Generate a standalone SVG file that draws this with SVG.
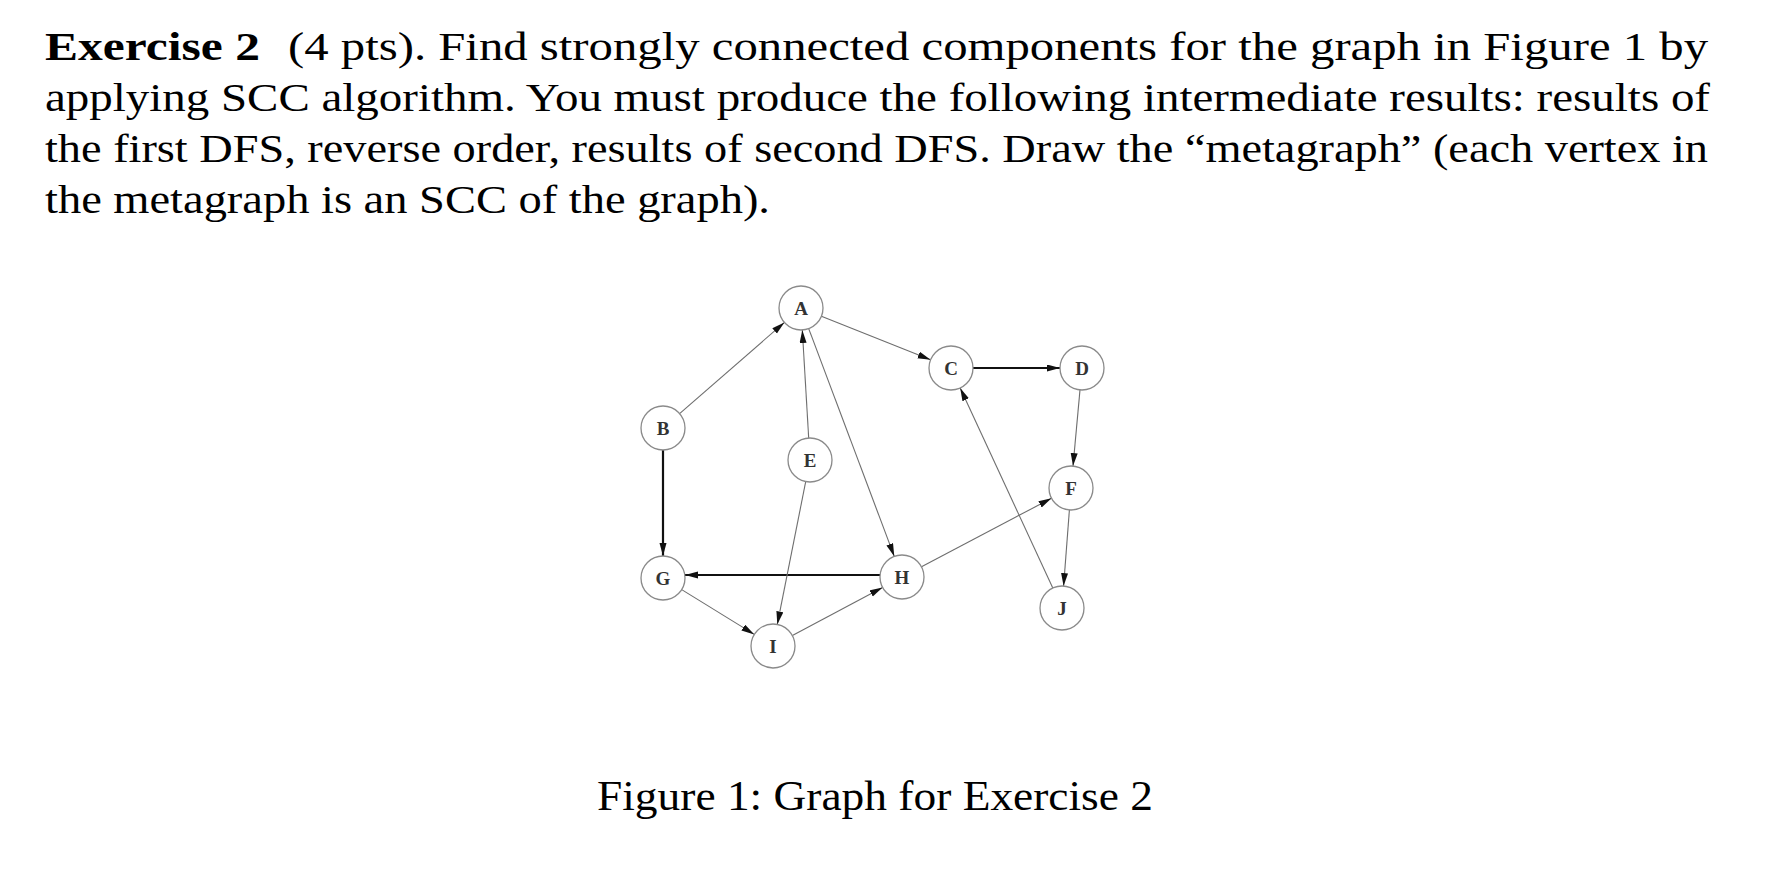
<svg xmlns="http://www.w3.org/2000/svg" width="1781" height="872" viewBox="0 0 1781 872">
<style>
.body{font-family:"Liberation Serif","Times New Roman",serif;font-size:39px;fill:#000}
.bold{font-weight:bold}
.cap{font-family:"Liberation Serif","Times New Roman",serif;font-size:42px;fill:#000}
.node circle{fill:#fff;stroke:#8a8a8a;stroke-width:1.3}
.node text{font-family:"Liberation Serif","Times New Roman",serif;font-size:19px;font-weight:bold;fill:#333;text-anchor:middle}
.thin{stroke:#6e6e6e;stroke-width:1.1;fill:none;marker-end:url(#arr)}
.thick{stroke:#111;stroke-width:2.2;fill:none;marker-end:url(#arr)}
</style>
<defs>
<marker id="arr" markerUnits="userSpaceOnUse" markerWidth="14" markerHeight="8" refX="13" refY="3.5" orient="auto">
<path d="M0,0 L13,3.5 L0,7 z" fill="#111"/>
</marker>
</defs>
<rect width="1781" height="872" fill="#fff"/>
<g id="text">
<text class="body bold" x="45" y="59.5" textLength="215" lengthAdjust="spacingAndGlyphs">Exercise 2</text>
<text class="body" x="288" y="59.5" textLength="1420" lengthAdjust="spacingAndGlyphs">(4 pts). Find strongly connected components for the graph in Figure 1 by</text>
<text class="body" x="45" y="110.5" textLength="1665" lengthAdjust="spacingAndGlyphs">applying SCC algorithm.  You must produce the following intermediate results:  results of</text>
<text class="body" x="45" y="161.5" textLength="1663" lengthAdjust="spacingAndGlyphs">the first DFS, reverse order, results of second DFS. Draw the “metagraph” (each vertex in</text>
<text class="body" x="45" y="212.5" textLength="725" lengthAdjust="spacingAndGlyphs">the metagraph is an SCC of the graph).</text>
<text class="cap" x="597" y="810" textLength="556" lengthAdjust="spacingAndGlyphs">Figure 1: Graph for Exercise 2</text>
</g>
<g id="connectors">
<line class="thin" x1="679.6" y1="413.6" x2="784.4" y2="322.4"/>
<line class="thick" x1="663" y1="450" x2="663" y2="556"/>
<line class="thin" x1="808.7" y1="438" x2="802.3" y2="330"/>
<line class="thin" x1="821.4" y1="316.2" x2="930.6" y2="359.8"/>
<line class="thin" x1="808.7" y1="328.6" x2="894.3" y2="556.4"/>
<line class="thick" x1="973" y1="368" x2="1060" y2="368"/>
<line class="thin" x1="1080" y1="389.9" x2="1073" y2="466.1"/>
<line class="thin" x1="1069.4" y1="509.9" x2="1063.6" y2="586.1"/>
<line class="thin" x1="1052.8" y1="588" x2="960.2" y2="388"/>
<line class="thin" x1="921.5" y1="566.7" x2="1051.5" y2="498.3"/>
<line class="thick" x1="880" y1="575" x2="685" y2="575"/>
<line class="thin" x1="681.7" y1="589.6" x2="754.3" y2="634.4"/>
<line class="thin" x1="805.7" y1="481.6" x2="777.3" y2="624.4"/>
<line class="thin" x1="792.4" y1="635.6" x2="882.6" y2="587.4"/>
</g>
<g id="node-A" class="node"><circle cx="801" cy="308" r="22"/><text x="801" y="315">A</text></g>
<g id="node-B" class="node"><circle cx="663" cy="428" r="22"/><text x="663" y="435">B</text></g>
<g id="node-C" class="node"><circle cx="951" cy="368" r="22"/><text x="951" y="375">C</text></g>
<g id="node-D" class="node"><circle cx="1082" cy="368" r="22"/><text x="1082" y="375">D</text></g>
<g id="node-E" class="node"><circle cx="810" cy="460" r="22"/><text x="810" y="467">E</text></g>
<g id="node-F" class="node"><circle cx="1071" cy="488" r="22"/><text x="1071" y="495">F</text></g>
<g id="node-G" class="node"><circle cx="663" cy="578" r="22"/><text x="663" y="585">G</text></g>
<g id="node-H" class="node"><circle cx="902" cy="577" r="22"/><text x="902" y="584">H</text></g>
<g id="node-I" class="node"><circle cx="773" cy="646" r="22"/><text x="773" y="653">I</text></g>
<g id="node-J" class="node"><circle cx="1062" cy="608" r="22"/><text x="1062" y="615">J</text></g>
</svg>
